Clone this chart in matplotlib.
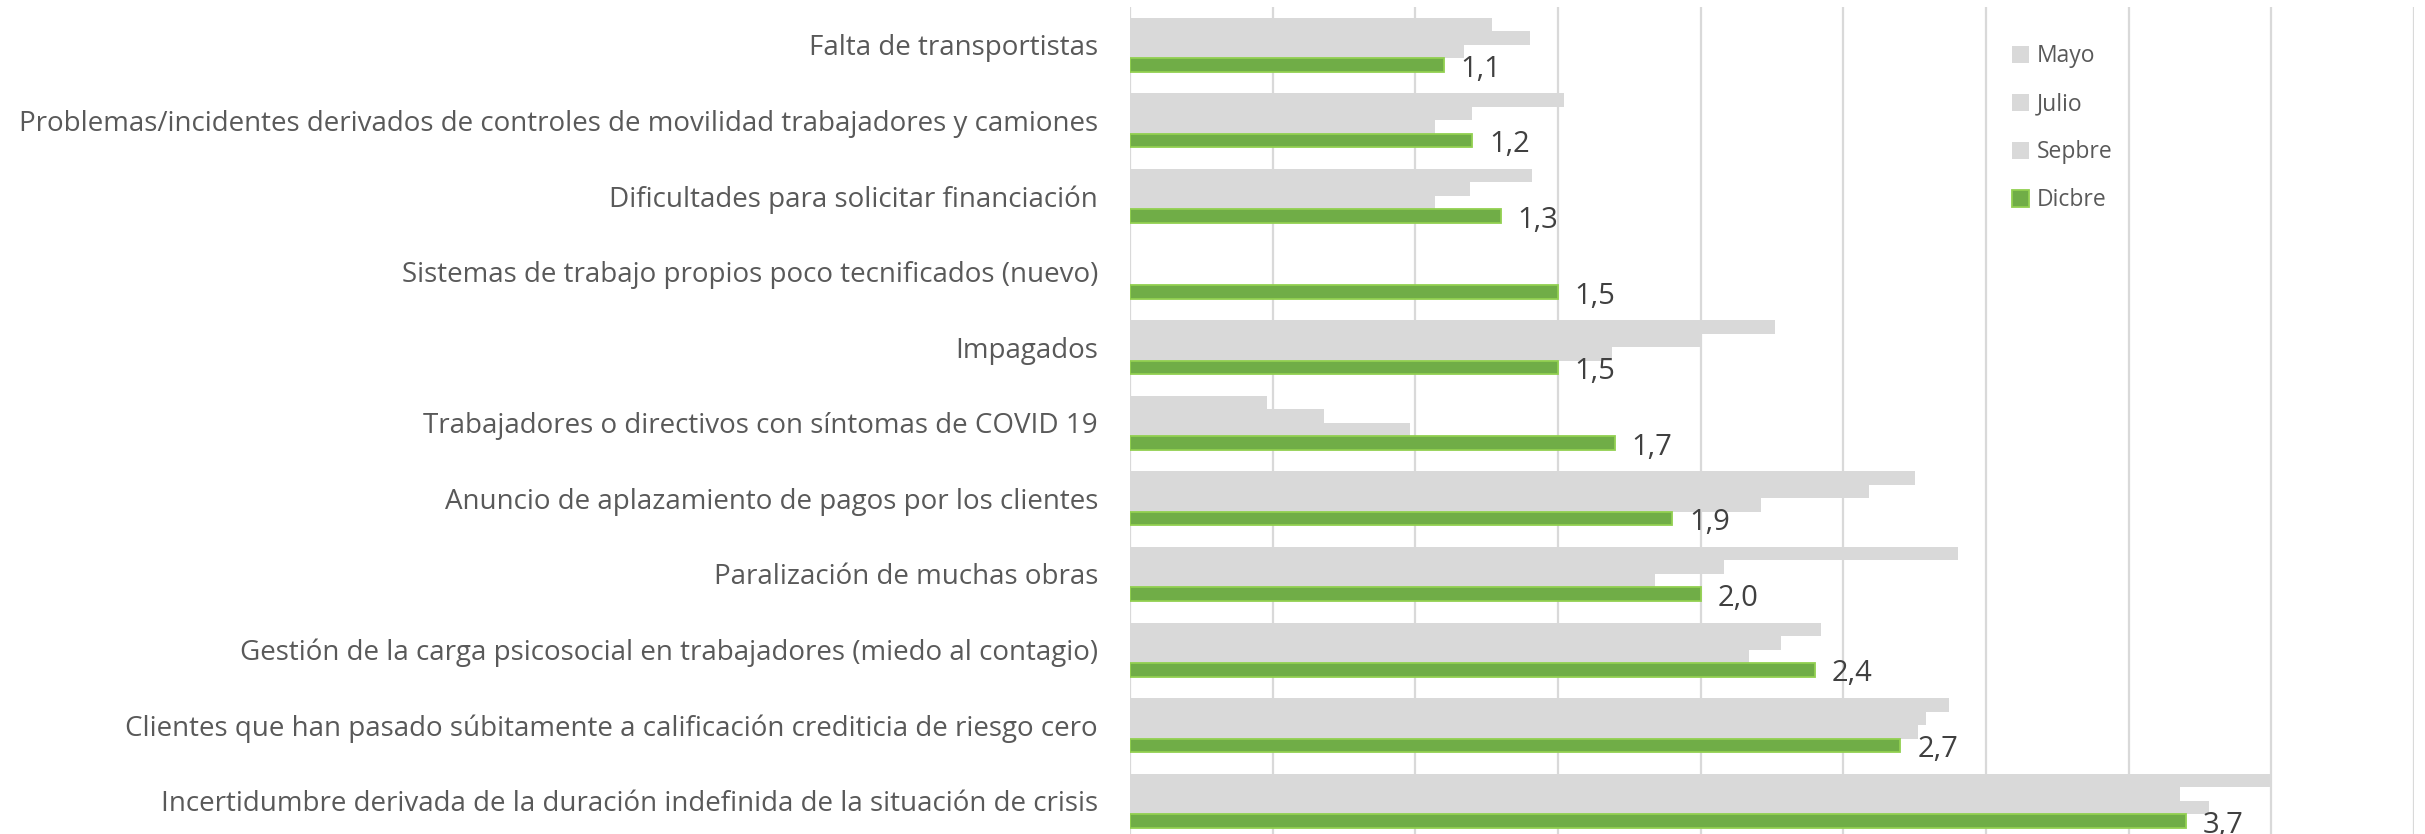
import numpy as np
import matplotlib
matplotlib.use("Agg")
import matplotlib.pyplot as plt
from matplotlib.patches import Patch

plt.rcParams['font.family'] = ['Open Sans', 'DejaVu Sans']

# categories, top to bottom
categories = [
    "Falta de transportistas",
    "Problemas/incidentes derivados de controles de movilidad trabajadores y camiones",
    "Dificultades para solicitar financiación",
    "Sistemas de trabajo propios poco tecnificados (nuevo)",
    "Impagados",
    "Trabajadores o directivos con síntomas de COVID 19",
    "Anuncio de aplazamiento de pagos por los clientes",
    "Paralización de muchas obras",
    "Gestión de la carga psicosocial en trabajadores (miedo al contagio)",
    "Clientes que han pasado súbitamente a calificación crediticia de riesgo cero",
    "Incertidumbre derivada de la duración indefinida de la situación de crisis",
]

mayo = [1.27, 1.52, 1.41, 0, 2.26, 0.48, 2.75, 2.90, 2.42, 2.87, 4.00]
julio = [1.40, 1.20, 1.19, 0, 2.00, 0.68, 2.59, 2.08, 2.28, 2.79, 3.68]
sepbre = [1.17, 1.07, 1.07, 0, 1.69, 0.98, 2.21, 1.84, 2.17, 2.76, 3.78]
dicbre = [1.1, 1.2, 1.3, 1.5, 1.5, 1.7, 1.9, 2.0, 2.4, 2.7, 3.7]

series = ["Mayo", "Julio", "Sepbre", "Dicbre"]

grey = "#D9D9D9"
green = "#70AD47"
green_edge = "#92D050"

fig = plt.figure(figsize=(24.25, 8.34), dpi=100)
ax = fig.add_axes([0.466, 0.0, 0.5295, 0.9916])

y = np.arange(len(categories))
h = 0.1786

ax.barh(y - 1.5 * h, mayo, height=h, color=grey, zorder=2)
ax.barh(y - 0.5 * h, julio, height=h, color=grey, zorder=2)
ax.barh(y + 0.5 * h, sepbre, height=h, color=grey, zorder=2)
ax.barh(y + 1.5 * h, dicbre, height=h, color=green, edgecolor=green_edge,
        linewidth=1.3, zorder=3)

# data labels for Dicbre
for yi, v in zip(y, dicbre):
    ax.annotate(f"{v:.1f}".replace(".", ","), xy=(v, yi + 1.5 * h),
                xytext=(12, -3), textcoords="offset points",
                va="center", ha="left", fontsize=21, color="#404040")

ax.set_xlim(0, 4.5)
ax.set_ylim(10.44, -0.5)
ax.set_xticks(np.arange(0, 4.51, 0.5))
ax.set_xticklabels([])
ax.set_yticks(y)
ax.set_yticklabels(categories, fontsize=20, color="#595959")
ax.tick_params(axis="both", length=0)
ax.tick_params(axis="y", pad=23)
ax.grid(axis="x", color=grey, linewidth=1.6, zorder=0)
ax.set_axisbelow(True)
for s in ax.spines.values():
    s.set_visible(False)

handles = [Patch(facecolor=grey, label="Mayo"),
           Patch(facecolor=grey, label="Julio"),
           Patch(facecolor=grey, label="Sepbre"),
           Patch(facecolor=green, edgecolor=green_edge, linewidth=1.3, label="Dicbre")]
fig.legend(handles=handles, loc="upper left", bbox_to_anchor=(0.8297, 0.947),
           frameon=False, fontsize=16.5, handlelength=0.75, handleheight=0.75,
           handletextpad=0.35, labelspacing=1.05, labelcolor="#595959",
           borderaxespad=0, borderpad=0)

fig.savefig("out.png", dpi=100, facecolor="white")
